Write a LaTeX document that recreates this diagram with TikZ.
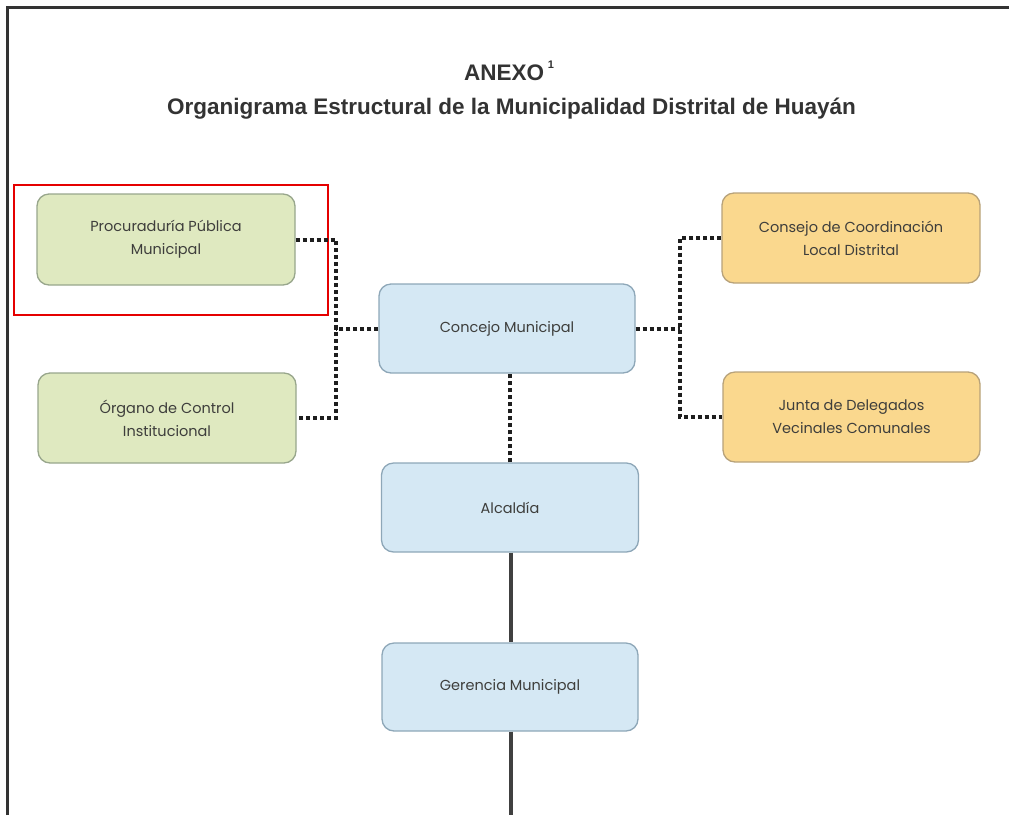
\documentclass[tikz,border=0pt]{standalone}
\usepackage{fontspec}
\setmainfont{Liberation Sans}
\newfontfamily\boxfont{Poppins}
\definecolor{txtgray}{HTML}{3E3E3C}
\definecolor{greenfill}{HTML}{DFE9C0}
\definecolor{greenline}{HTML}{98A68C}
\definecolor{bluefill}{HTML}{D5E8F4}
\definecolor{blueline}{HTML}{8EA7B8}
\definecolor{orangefill}{HTML}{FAD88E}
\definecolor{orangeline}{HTML}{B7A27A}
\definecolor{linedark}{HTML}{1E1E1E}
\definecolor{titlegray}{HTML}{333333}
\begin{document}
\begin{tikzpicture}[x=1pt,y=-1pt,
  orgbox/.style={draw, line width=1.3pt, rounded corners=12pt, inner sep=0pt,
    align=center, text=txtgray, font=\boxfont\fontsize{14.5}{23}\selectfont},
  greenbox/.style={orgbox, fill=greenfill, draw=greenline},
  bluebox/.style={orgbox, fill=bluefill, draw=blueline},
  orangebox/.style={orgbox, fill=orangefill, draw=orangeline},
  dotline/.style={draw=linedark, line width=4pt, dash pattern=on 4pt off 3pt},
  solidline/.style={draw=linedark!85, line width=4pt},
  frameline/.style={draw=titlegray, line width=3pt}]
\useasboundingbox (0,0) rectangle (1009,815);
% frame
\draw[frameline] (7,815) -- (7,7) -- (1009,7);
% titles
\node[font=\bfseries\fontsize{22.5}{26}\selectfont, text=titlegray] (anexo) at (509,71)
  {ANEXO\,\raisebox{0.55em}{\fontsize{11}{12}\selectfont 1}};
\node[font=\bfseries\fontsize{22.5}{26}\selectfont, text=titlegray] (title) at (511.5,109)
  {Organigrama Estructural de la Municipalidad Distrital de Huayán};
% boxes
\node[greenbox, minimum width=258pt, minimum height=91pt] (proc) at (166,239.5)
  {Procuraduría Pública\\Municipal};
\node[greenbox, minimum width=258pt, minimum height=90pt] (organo) at (167,418)
  {Órgano de Control\\Institucional};
\node[bluebox, minimum width=256pt, minimum height=89pt] (concejo) at (507,328.5)
  {Concejo Municipal};
\node[orangebox, minimum width=258pt, minimum height=90pt] (consejo) at (851,238)
  {Consejo de Coordinación\\Local Distrital};
\node[orangebox, minimum width=257pt, minimum height=90pt] (junta) at (851.5,417)
  {Junta de Delegados\\Vecinales Comunales};
\node[bluebox, minimum width=257pt, minimum height=89pt] (alcaldia) at (510,507.5)
  {Alcaldía};
\node[bluebox, minimum width=256pt, minimum height=88pt] (gerencia) at (510,687)
  {Gerencia Municipal};
% highlight
\node[draw=red!90!black, line width=2pt, minimum width=314pt, minimum height=130pt, inner sep=0pt] (hl) at (171,250) {};
% junctions
\coordinate (jl) at (336,328.5);
\coordinate (jr) at (680,328.5);
\coordinate (bottom) at (511,815);
% connectors
\draw[dotline] (proc.east) -| (jl) |- (organo.east);
\draw[dotline] (concejo.west) -- (jl);
\draw[dotline] (consejo.west) -| (jr) |- (junta.west);
\draw[dotline] (concejo.east) -- (jr);
\draw[dotline] (alcaldia.north) -- (alcaldia.north |- concejo.south);
\draw[solidline] ([xshift=1pt]alcaldia.south) -- ([xshift=1pt]gerencia.north);
\draw[solidline] (gerencia.south -| bottom) -- (bottom);
\end{tikzpicture}
\end{document}
